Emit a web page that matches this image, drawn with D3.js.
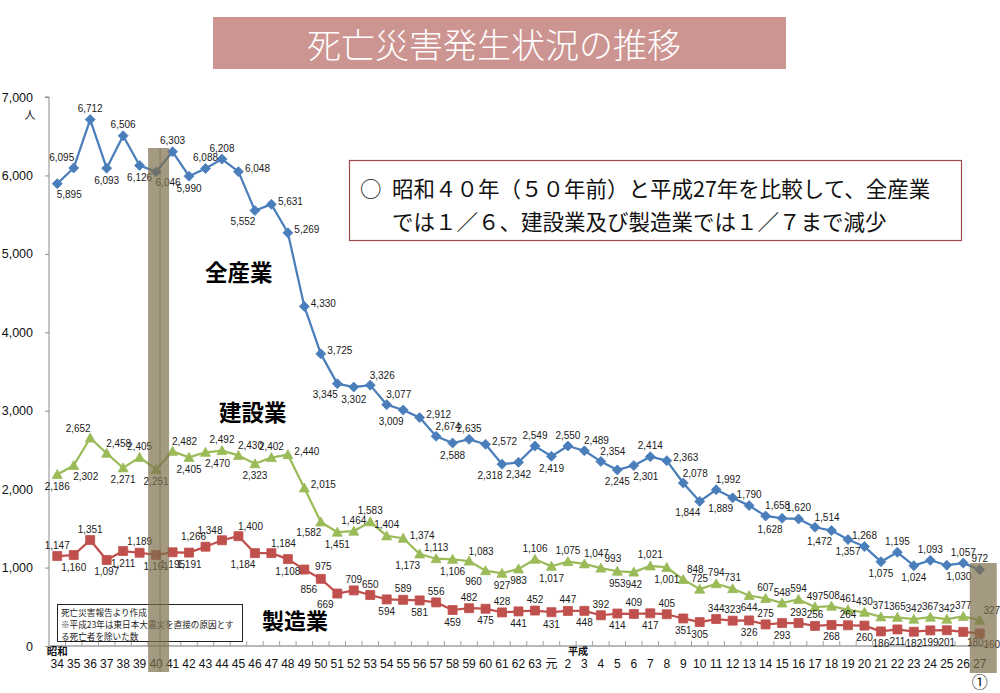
<!DOCTYPE html>
<html><head><meta charset="utf-8">
<script src="https://cdn.jsdelivr.net/npm/d3@7"></script>
<style>
html,body{margin:0;padding:0;background:#fff;}
svg{display:block;}
text{font-family:"Liberation Sans","Noto Sans CJK JP",sans-serif;}
.cjk{font-family:"Noto Sans CJK JP","Liberation Sans",sans-serif;}
</style></head>
<body>
<svg id="chart" width="1000" height="693"></svg>
<script>
// ---------- data ----------
const categories = ["34","35","36","37","38","39","40","41","42","43","44","45","46","47","48","49","50","51","52","53","54","55","56","57","58","59","60","61","62","63","元","2","3","4","5","6","7","8","9","10","11","12","13","14","15","16","17","18","19","20","21","22","23","24","25","26","27"];
const allIndustry = [5895,6095,6712,6093,6506,6126,6046,6303,5990,6088,6208,6048,5552,5631,5269,4330,3725,3345,3302,3326,3077,3009,2912,2674,2588,2635,2572,2318,2342,2549,2419,2550,2489,2354,2245,2301,2414,2363,2078,1844,1992,1889,1790,1658,1628,1620,1514,1472,1357,1268,1075,1195,1024,1093,1030,1057,972];
const construction = [2186,2302,2652,2458,2271,2405,2251,2482,2405,2470,2492,2430,2323,2402,2440,2015,1582,1451,1464,1583,1404,1374,1173,1113,1106,1083,960,927,983,1106,1017,1075,1047,993,953,942,1021,1001,848,725,794,731,644,607,548,594,497,508,461,430,371,365,342,367,342,377,327];
const manufacturing = [1147,1160,1351,1097,1211,1189,1161,1195,1191,1266,1348,1400,1184,1184,1108,975,856,669,709,650,594,589,581,556,459,482,475,428,441,452,431,447,448,392,414,409,417,405,351,305,344,323,326,275,293,293,256,268,264,260,186,211,182,199,201,180,160];
const yTicks = [0,1000,2000,3000,4000,5000,6000,7000];
const seriesNames = ["全産業","建設業","製造業"];
const highlightCats = ["40","27"];

// label placement codes (layout)
const posAll = "br al a b a b br a b a a r bl r r r r bl b ar ar bl r ar b a r bl b a b a ar ar b br a r ar bl ar bl a ar bl a ar bl b a b a b a br a a".split(" ");
const posCon = "b br al ar b a b ar b br a ar b a r r bl b a a a r bl a b ar bl b b a b a ar ar b b a b ar a a a b a a a a a a a a a a a a a ar".split(" ");
const posMan = "a b a b b a b b b al al ar bl ar b r bl bl a a b a b a b a b a b a b a b a b a b a b b a a b a b a a b a b b b b b b br br".split(" ");

// ---------- layout ----------
const svg = d3.select("#chart");
const X0 = 49, X1 = 988, Y0 = 646, Y1 = 97;
const x = d3.scaleBand().domain(categories).range([X0, X1]).padding(0);
const bw = x.bandwidth();
const cx = c => x(c) + bw / 2;
const y = d3.scaleLinear().domain([0, 7000]).range([Y0, Y1]);

// title bar
svg.append("rect").attr("x",213).attr("y",17).attr("width",573).attr("height",52).attr("fill","#cd9591");
svg.append("text").attr("class","cjk").attr("x",494).attr("y",43).attr("text-anchor","middle")
  .attr("dominant-baseline","central").attr("fill","#fff").attr("font-size",34).attr("font-weight",300)
  .text("死亡災害発生状況の推移");

// y axis
const yAxis = svg.append("g").attr("transform",`translate(${X0},0)`)
  .call(d3.axisLeft(y).tickValues(yTicks).tickSize(4).tickPadding(12).tickFormat(d3.format(",")));
yAxis.select(".domain").attr("stroke","#8a8a8a").attr("d",`M-4,${Y1}H0V${Y0}`);
yAxis.selectAll(".tick line").attr("stroke","#8a8a8a");
yAxis.selectAll(".tick text").attr("font-size",12.5).attr("fill","#111").attr("font-family","Liberation Sans, sans-serif");
svg.append("text").attr("class","cjk").attr("x",30).attr("y",114).attr("text-anchor","middle")
  .attr("dominant-baseline","central").attr("font-size",11).attr("fill","#111").text("人");

// x axis
const xAxis = svg.append("g").attr("transform",`translate(0,${Y0})`)
  .call(d3.axisBottom(x).tickSize(0).tickPadding(13));
xAxis.select(".domain").attr("stroke","#a0a0a0").attr("stroke-width",1.5).attr("d",`M${X0},0H${X1}`);
xAxis.selectAll(".tick text").attr("font-size",12).attr("fill","#111");
// boundary tick marks
svg.append("g").selectAll("line").data(categories.slice(1)).join("line")
  .attr("x1",d=>x(d)).attr("x2",d=>x(d)).attr("y1",Y0-5).attr("y2",Y0)
  .attr("stroke","#a0a0a0").attr("stroke-width",1);
svg.append("line").attr("x1",X1).attr("x2",X1).attr("y1",Y0-5).attr("y2",Y0).attr("stroke","#a0a0a0");

svg.append("text").attr("class","cjk").attr("x",cx("34")).attr("y",650).attr("text-anchor","middle")
  .attr("dominant-baseline","central").attr("font-size",10.5).attr("font-weight","bold").attr("fill","#111").text("昭和");
svg.append("text").attr("class","cjk").attr("x",cx("2")+10).attr("y",650).attr("text-anchor","middle")
  .attr("dominant-baseline","central").attr("font-size",10).attr("font-weight","bold").attr("fill","#111").text("平成");

// ---------- series ----------
const series = [
  {name: seriesNames[0], values: allIndustry, pos: posAll, color:"#4a7ebb", shape:"diamond"},
  {name: seriesNames[1], values: construction, pos: posCon, color:"#9bbb59", shape:"triangle"},
  {name: seriesNames[2], values: manufacturing, pos: posMan, color:"#c0504d", shape:"square"}
];
const shapes = {
  diamond: "M0,-5L5,0L0,5L-5,0Z",
  triangle: "M0,-5L5,4L-5,4Z",
  square: "M-4.5,-4.5H4.5V4.5H-4.5Z"
};
const off = {a:[0,-11], b:[0,12], r:[19,-3], l:[-19,0], ar:[12,-10], al:[-12,-10], br:[12,11], bl:[-12,11]};
const line = d3.line().x((d,i)=>cx(categories[i])).y(d=>y(d));

series.forEach(s => {
  svg.append("path").datum(s.values).attr("d", line).attr("fill","none")
    .attr("stroke", s.color).attr("stroke-width", 2.25).attr("stroke-linejoin","round");
});
series.forEach(s => {
  svg.append("g").selectAll("path").data(s.values).join("path")
    .attr("d", shapes[s.shape])
    .attr("transform",(d,i)=>`translate(${cx(categories[i])},${y(d)})`)
    .attr("fill", s.color).attr("stroke", s.color).attr("stroke-width",0.8);
});
const fmt = d3.format(",");
series.forEach(s => {
  svg.append("g").selectAll("text").data(s.values).join("text")
    .attr("x",(d,i)=>cx(categories[i]) + off[s.pos[i]][0])
    .attr("y",(d,i)=>y(d) + off[s.pos[i]][1])
    .attr("text-anchor","middle").attr("dominant-baseline","central")
    .attr("font-size",10).attr("fill","#1a1a1a")
    .text(d=>fmt(d));
});

// series name labels
svg.append("text").attr("class","cjk").attr("x",205).attr("y",271).attr("dominant-baseline","central")
  .attr("font-size",22.5).attr("font-weight","bold").attr("fill","#000").text(seriesNames[0]);
svg.append("text").attr("class","cjk").attr("x",219).attr("y",411).attr("dominant-baseline","central")
  .attr("font-size",22.5).attr("font-weight","bold").attr("fill","#000").text(seriesNames[1]);
svg.append("text").attr("class","cjk").attr("x",262).attr("y",619).attr("dominant-baseline","central")
  .attr("font-size",22).attr("font-weight","bold").attr("fill","#000").text(seriesNames[2]);

// note box
svg.append("rect").attr("x",57.5).attr("y",604.5).attr("width",185).attr("height",37)
  .attr("fill","#fff").attr("stroke","#222").attr("stroke-width",1);
["死亡災害報告より作成","※平成23年は東日本大震災を直接の原因とす","る死亡者を除いた数"].forEach((t,i)=>{
  svg.append("text").attr("class","cjk").attr("x",61).attr("y",612+i*12).attr("dominant-baseline","central")
    .attr("font-size",8.6).attr("fill","#222").text(t);
});

// comment box
svg.append("rect").attr("x",349.5).attr("y",160.5).attr("width",612).attr("height",80)
  .attr("fill","#fff").attr("stroke","#a04848").attr("stroke-width",1.2);
svg.append("text").attr("class","cjk").attr("x",360).attr("y",187).attr("dominant-baseline","central")
  .attr("font-size",21.5).attr("fill","#111").text("○");
svg.append("text").attr("class","cjk").attr("x",392).attr("y",187).attr("dominant-baseline","central")
  .attr("font-size",21.5).attr("fill","#111").text("昭和４０年（５０年前）と平成27年を比較して、全産業");
svg.append("text").attr("class","cjk").attr("x",392).attr("y",220).attr("dominant-baseline","central")
  .attr("font-size",21.5).attr("fill","#111").text("では１／６、建設業及び製造業では１／７まで減少");

// highlight overlays
const hl = [
  {c: highlightCats[0], dx0:-8, w:21, top:148, bottom:672, mid:true},
  {c: highlightCats[1], dx0:-10, w:27, top:563, bottom:673, mid:false}
];
hl.forEach(h => {
  svg.append("rect").attr("x",cx(h.c)+h.dx0).attr("y",h.top).attr("width",h.w).attr("height",h.bottom-h.top)
    .attr("fill","#7d6f4d").attr("opacity",0.7);
  if (h.mid) svg.append("line").attr("x1",cx(h.c)+4).attr("x2",cx(h.c)+4).attr("y1",h.top).attr("y2",h.bottom)
    .attr("stroke","#6d6245").attr("stroke-width",0.8).attr("opacity",0.6);
});
svg.append("text").attr("class","cjk").attr("x",cx("27")).attr("y",681).attr("text-anchor","middle")
  .attr("dominant-baseline","central").attr("font-size",16).attr("fill","#111").text("①");
</script>
</body></html>
